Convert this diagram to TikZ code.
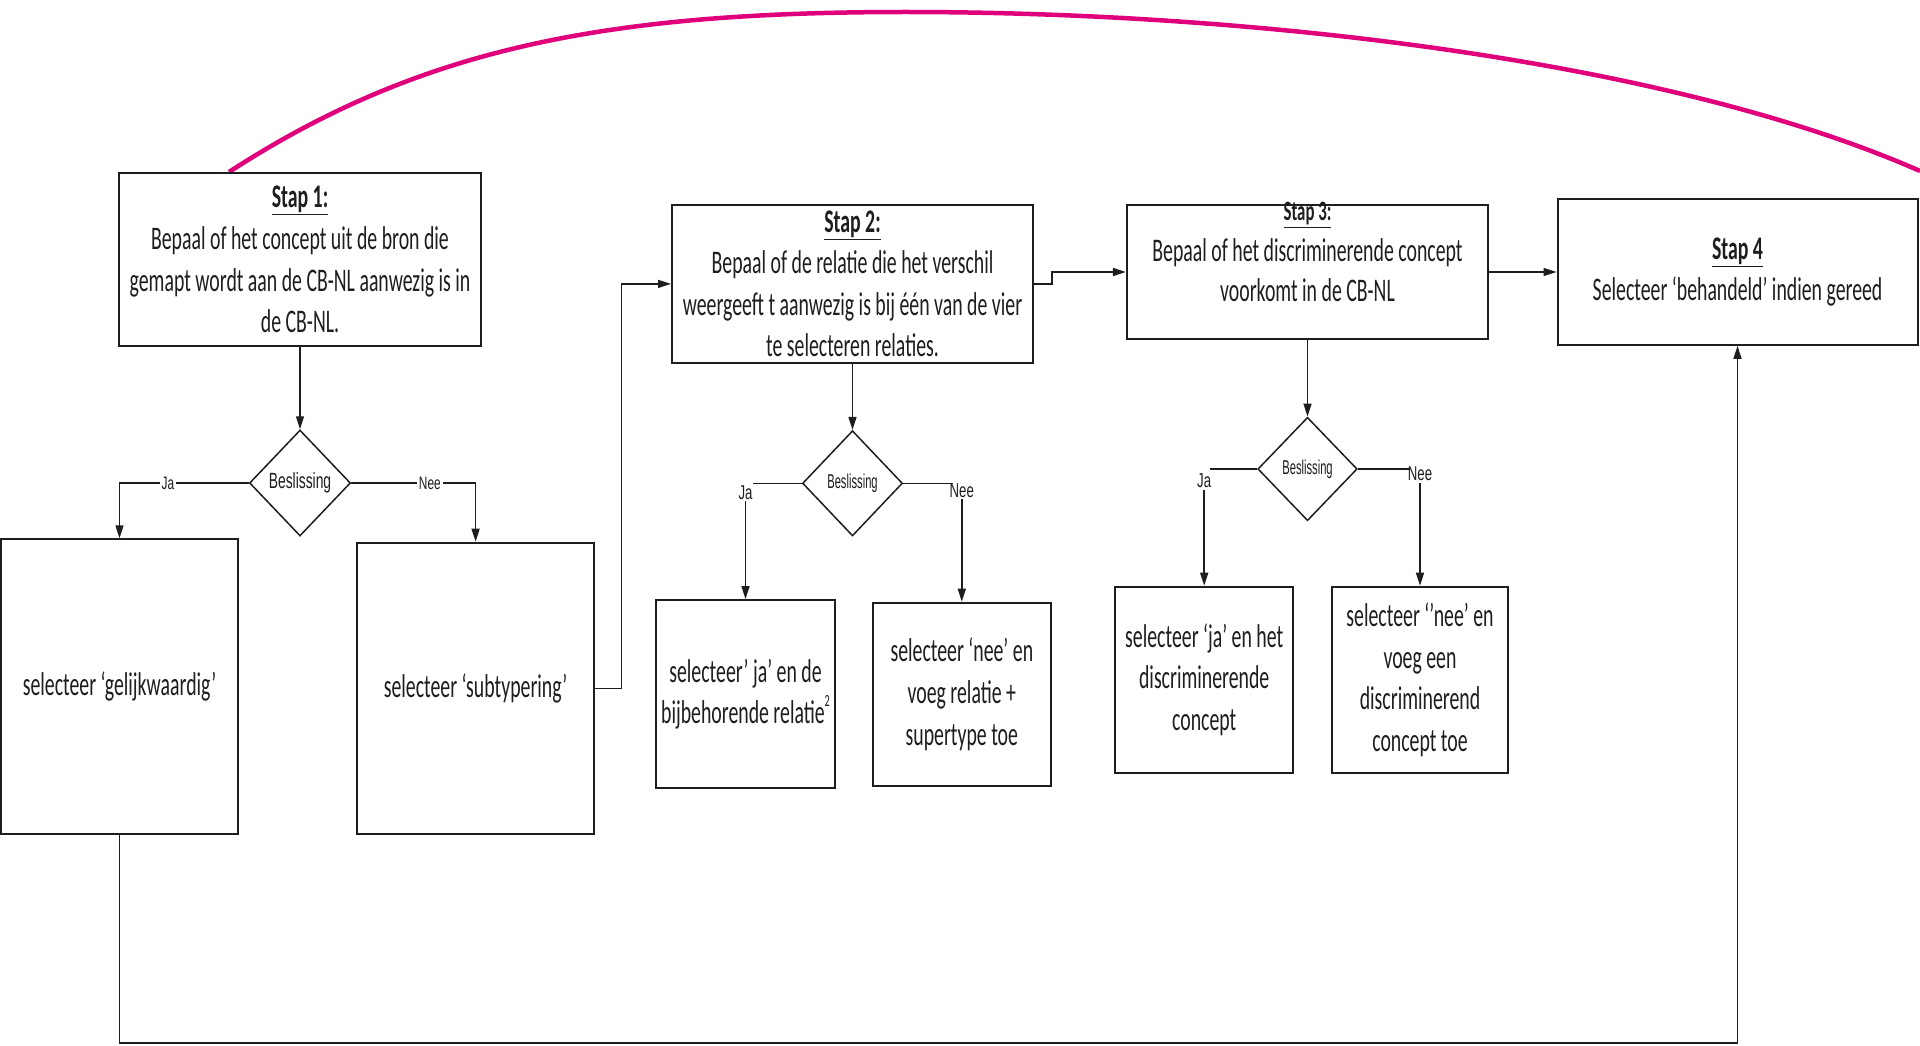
\documentclass[tikz,border=0pt]{standalone}
\usepackage{fontspec}
\setmainfont{Carlito}[FakeStretch=0.6]
\newfontfamily\decfontA{Liberation Sans}[FakeStretch=0.63]
\newfontfamily\decfontB{Liberation Sans}[FakeStretch=0.56]
\newfontfamily\labfont{Liberation Sans}[FakeStretch=0.66]
\usetikzlibrary{shapes.geometric,arrows.meta,calc}
\definecolor{ink}{RGB}{30,30,30}
\definecolor{mag}{RGB}{224,0,124}
\begin{document}
\begin{tikzpicture}[x=1pt,y=-1pt,
  box/.style={draw=ink, line width=2pt, rectangle, inner sep=0pt, align=center, text=ink,
    font=\fontsize{33}{41.6}\selectfont},
  dec/.style={draw=ink, line width=1.5pt, diamond, inner sep=0pt, text=ink},
  conn/.style={draw=ink, line width=1.5pt},
  arr/.style={conn, -{Triangle[length=13pt,width=8pt]}},
  lab/.style={fill=white, inner sep=2pt, text=ink, font=\labfont\fontsize{18}{20}\selectfont},
  labn/.style={inner sep=2pt, text=ink, font=\labfont\fontsize{20}{22}\selectfont},
]
\fill[white] (0,0) rectangle (1920,1046);
\useasboundingbox (0,0) rectangle (1920,1046);

% magenta curve
\draw[mag, line width=4.5pt] (229,172) .. controls (420,48) and (606,12) .. (906,12)
  .. controls (1256,12) and (1670,61) .. (1920,171);

% step boxes
\node[box, minimum width=361.7pt, minimum height=172.7pt] (s1) at (300,259.7)
  {\textbf{\underline{Stap 1:}}\\Bepaal of het concept uit de bron die\\gemapt wordt aan de CB-NL aanwezig is in\\de CB-NL.};
\node[box, minimum width=361pt, minimum height=157.7pt] (s2) at (852.5,283.9)
  {\textbf{\underline{Stap 2:}}\\Bepaal of de relatie die het verschil\\weergeeft t aanwezig is bij één van de vier\\te selecteren relaties.};
\node[box, minimum width=361.3pt, minimum height=133.3pt] (s3) at (1307.5,272) {};
\node[text=ink, inner sep=0pt, font=\fontsize{28}{32}\selectfont] (s3h) at (1307.5,215) {\textbf{\underline{Stap 3:}}};
\node[text=ink, inner sep=0pt, align=center, font=\fontsize{33}{40.4}\selectfont] (s3t) at (1307.5,270)
  {Bepaal of het discriminerende concept\\voorkomt in de CB-NL};
\node[box, minimum width=360pt, minimum height=145.7pt] (s4) at (1737.5,272)
  {\textbf{\underline{Stap 4}}\\Selecteer ‘behandeld’ indien gereed};

% decisions
\node[dec, minimum width=101pt, minimum height=106pt, font=\decfontA\fontsize{22}{24}\selectfont] (d1) at (300,483) {Beslissing};
\node[dec, minimum width=100pt, minimum height=105.3pt, font=\decfontB\fontsize{20}{22}\selectfont] (d2) at (852.5,483.3) {Beslissing};
\node[dec, minimum width=99.4pt, minimum height=103.4pt, font=\decfontB\fontsize{20}{22}\selectfont] (d3) at (1307.5,469) {Beslissing};

% result boxes
\node[box, minimum width=237pt, minimum height=295pt] (gl) at (119.5,686.8) {selecteer ‘gelijkwaardig’};
\node[box, minimum width=237.3pt, minimum height=291.6pt] (sub) at (475.6,688.5) {selecteer ‘subtypering’};
\node[box, minimum width=179pt, minimum height=188.3pt] (ja2) at (745.5,694.2)
  {selecteer’ ja’ en de\\bijbehorende relatie\raisebox{1.1ex}{\fontsize{17}{17}\selectfont 2}};
\node[box, minimum width=178.3pt, minimum height=183.3pt] (nee2) at (961.8,694.3)
  {selecteer ‘nee’ en\\voeg relatie +\\supertype toe};
\node[box, minimum width=178.3pt, minimum height=186pt] (ja3) at (1204.2,679.7)
  {selecteer ‘ja’ en het\\discriminerende\\concept};
\node[box, minimum width=176.6pt, minimum height=186pt] (nee3) at (1420,679.7)
  {selecteer ‘’nee’ en\\voeg een\\discriminerend\\concept toe};

% connectors step 1
\draw[arr] (s1.south) -- (d1.north);
\draw[arr] (d1.west) -| node[lab, pos=0.313] (l1j) {Ja} (gl.north);
\draw[arr] (d1.east) -| node[lab, pos=0.316] (l1n) {Nee} (sub.north);
\draw[arr] (sub.east) -- ++(26,0) |- (s2.west);

% step 2
\draw[arr] (s2.south) -- (d2.north);
\draw[conn] (d2.west) -- ($(d2.west -| ja2.north)+(7,0)$);
\node[labn] (l2j) at ($(d2.west -| ja2.north)+(0,9)$) {Ja};
\draw[arr] (l2j.south) -- (ja2.north);
\draw[conn] (d2.east) -- ($(d2.east -| nee2.north)+(-9,0)$);
\node[labn] (l2n) at ($(d2.east -| nee2.north)+(0,7)$) {Nee};
\draw[arr] (l2n.south) -- (nee2.north);
\draw[arr] (s2.east) -- ++(18,0) |- (s3.west);

% step 3
\draw[arr] (s3.south) -- (d3.north);
\draw[conn] (d3.west) -- ($(d3.west -| ja3.north)+(6,0)$);
\node[labn] (l3j) at ($(d3.west -| ja3.north)+(0,12)$) {Ja};
\draw[arr] (l3j.south) -- (ja3.north);
\draw[conn] (d3.east) -- ($(d3.east -| nee3.north)+(-10,0)$);
\node[labn] (l3n) at ($(d3.east -| nee3.north)+(0,5)$) {Nee};
\draw[arr] (l3n.south) -- (nee3.north);
\draw[arr] (s3.east) -- (s4.west);

% loop back to step 4
\coordinate (bot) at (119.5,1043);
\draw[arr] (gl.south) -- (bot) -| (s4.south);
\end{tikzpicture}
\end{document}
